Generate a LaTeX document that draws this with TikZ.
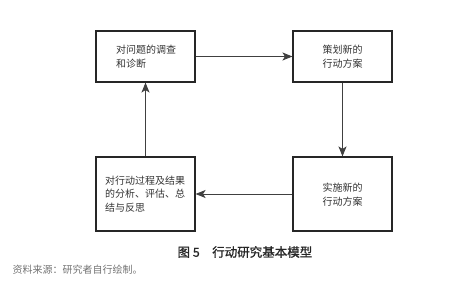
\documentclass[tikz,border=0pt]{standalone}
\usepackage{fontspec}
\setmainfont{Noto Sans CJK SC}
\newfontfamily\capfont[FakeBold=1.2]{Noto Sans CJK SC}
\usetikzlibrary{arrows.meta}
\begin{document}
\begin{tikzpicture}[x=1pt,y=-1pt,
  box/.style={draw=black!85,line width=1.1pt,inner sep=0pt,minimum width=99pt},
  btext/.style={font=\fontsize{10}{13.5}\selectfont,text=black!80,align=left},
  conn/.style={draw=black!75,line width=0.9pt,-{Stealth[length=10pt,width=8pt,inset=2.5pt]}}]
\useasboundingbox (0,0) rectangle (450,286);
\node[box,minimum height=51pt] (b1) at (145.5,56.5) {};
\node[box,minimum height=51pt] (b2) at (342.5,56.5) {};
\node[box,minimum height=74pt] (b3) at (145.5,194) {};
\node[box,minimum height=74pt] (b4) at (342.5,194) {};
\node[btext] (t1) at (146,56.5) {对问题的调查\\和诊断};
\node[btext,align=center] (t2) at (342.5,56.5) {策划新的\\行动方案};
\node[btext] (t3) at (145,194) {对行动过程及结果\\的分析、评估、总\\结与反思};
\node[btext,align=center] (t4) at (342.5,194.5) {实施新的\\行动方案};
\draw[conn] (b1.east) -- (b2.west);
\draw[conn] (b2.south) -- (b4.north);
\draw[conn] (b4.west) -- (b3.east);
\draw[conn] (b3.north) -- (b1.south);
\node[font=\fontsize{12.5}{14}\selectfont\capfont,text=black!85,anchor=west] (cap) at (174,252) {图 5\hspace{1em}行动研究基本模型};
\node[font=\fontsize{10}{12}\selectfont,text=black!55,anchor=west] (src) at (9,270) {资料来源：研究者自行绘制。};
\end{tikzpicture}
\end{document}
